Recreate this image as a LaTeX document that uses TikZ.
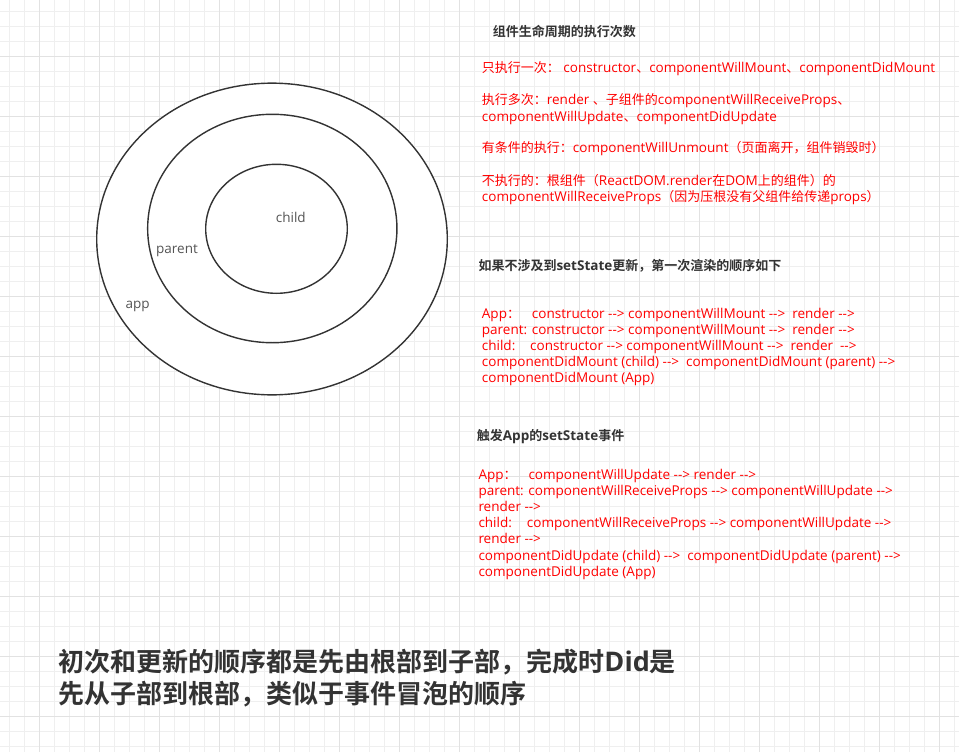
\documentclass[tikz,border=0pt]{standalone}
\usepackage{fontspec}
\setmainfont{Open Sans}[Ligatures=TeXOff, Scale=1.04]
\newfontfamily\zhfont{Noto Sans CJK SC}[BoldFont={Noto Sans CJK SC Bold}]
\usepackage{xcolor}
\usetikzlibrary{shapes.geometric}

% Chinese characters switch to the CJK family by themselves
\XeTeXinterchartokenstate=1
\newXeTeXintercharclass\zhclass
\newcount\zhcode
\zhcode="3000 \loop\XeTeXcharclass\zhcode=\zhclass\ifnum\zhcode<"303F \advance\zhcode by 1 \repeat
\zhcode="4E00 \loop\XeTeXcharclass\zhcode=\zhclass\ifnum\zhcode<"9FFF \advance\zhcode by 1 \repeat
\zhcode="FF00 \loop\XeTeXcharclass\zhcode=\zhclass\ifnum\zhcode<"FFEF \advance\zhcode by 1 \repeat
\XeTeXinterchartoks 0 \zhclass = {\begingroup\zhfont}
\XeTeXinterchartoks 4095 \zhclass = {\begingroup\zhfont}
\XeTeXinterchartoks \zhclass 0 = {\endgroup}
\XeTeXinterchartoks \zhclass 4095 = {\endgroup}

\definecolor{inkgray}{HTML}{333333}
\definecolor{taggray}{HTML}{555555}
\definecolor{minorline}{HTML}{EFEFEF}
\definecolor{majorline}{HTML}{E2E2E2}

\begin{document}
\begin{tikzpicture}[x=1pt, y=-1pt]
        \tikzset{ring/.style = {ellipse, draw=inkgray, line width=1.4pt, fill=white, inner sep=0pt}}
        \tikzset{ringtag/.style = {text=taggray, font=\fontsize{13}{16}\selectfont, inner sep=0pt}}
        \tikzset{heading/.style = {anchor=base west, inner sep=0pt, text=inkgray, font=\fontsize{13}{16}\selectfont\bfseries}}
        \tikzset{redline/.style = {anchor=base west, inner sep=0pt, text=red, font=\fontsize{13}{16}\selectfont}}
        \tikzset{summary/.style = {anchor=base west, inner sep=0pt, text=inkgray, font=\fontsize{26}{32}\selectfont\bfseries}}

        % paper
        \useasboundingbox (0,0) rectangle (959,752);
        \fill[white] (0,0) rectangle (959,752);
        \foreach \k in {0,...,63} \draw[minorline, line width=0.8pt] ({9.3+15*\k},0) -- ({9.3+15*\k},752);
        \foreach \k in {0,...,49} \draw[minorline, line width=0.8pt] (0,{11.7+15*\k}) -- (959,{11.7+15*\k});
        \foreach \k in {0,...,15} \draw[majorline, line width=0.8pt] ({39.3+60*\k},0) -- ({39.3+60*\k},752);
        \foreach \k in {0,...,11} \draw[majorline, line width=0.8pt] (0,{56.7+60*\k}) -- (959,{56.7+60*\k});

        % rings
        \node[ring, minimum width=350.6pt, minimum height=311.7pt] (appring) at (272,239) {};
        \node[ring, minimum width=249.3pt, minimum height=228.4pt] (parentring) at (272.3,228.5) {};
        \node[ring, minimum width=141.6pt, minimum height=129pt] (childring) at (276.5,228.8) {};
        \node[ringtag] (childtag) at (290.8,217) {child};
        \node[ringtag] (parenttag) at (177,250.7) {parent};
        \node[ringtag] (apptag) at (137.7,306.7) {app};

        % how often
        \node[heading] (counthead) at (492.7,36.5) {组件生命周期的执行次数};
        \node[redline] (once) at (481.7,73) {只执行一次： constructor、componentWillMount、componentDidMount};
        \node[redline] (many) at (481.7,105) {执行多次：render 、子组件的componentWillReceiveProps、};
        \node[redline] (many2) at (481.7,121.5) {componentWillUpdate、componentDidUpdate};
        \node[redline] (cond) at (481.7,152.5) {有条件的执行：componentWillUnmount（页面离开，组件销毁时）};
        \node[redline] (never) at (481.7,185.5) {不执行的：根组件（ReactDOM.render在DOM上的组件）的};
        \node[redline] (never2) at (481.7,201.5) {componentWillReceiveProps（因为压根没有父组件给传递props）};

        % first render
        \node[heading] (mounthead) at (478.3,270) {如果不涉及到setState更新，第一次渲染的顺序如下};
        \node[redline] (mount1) at (481.7,318) {\makebox[50pt][l]{App：}constructor --> componentWillMount -->\ \ render -->};
        \node[redline] (mount2) at (481.7,334.5) {parent: constructor --> componentWillMount -->\ \ render -->};
        \node[redline] (mount3) at (481.7,350.5) {\makebox[48.3pt][l]{child:}constructor --> componentWillMount -->\ \ render\ \ -->};
        \node[redline] (mount4) at (481.7,366.5) {componentDidMount (child) -->\ \ componentDidMount (parent) -->};
        \node[redline] (mount5) at (481.7,382.5) {componentDidMount (App)};

        % setState
        \node[heading] (updatehead) at (476.7,440) {触发App的setState事件};
        \node[redline] (update1) at (478.3,479) {\makebox[50pt][l]{App：}componentWillUpdate --> render -->};
        \node[redline] (update2) at (478.3,495.5) {parent: componentWillReceiveProps --> componentWillUpdate -->};
        \node[redline] (update3) at (478.3,511.5) {render -->};
        \node[redline] (update4) at (478.3,527.5) {\makebox[48.4pt][l]{child:}componentWillReceiveProps --> componentWillUpdate -->};
        \node[redline] (update5) at (478.3,543.5) {render -->};
        \node[redline] (update6) at (478.3,560) {componentDidUpdate (child) -->\ \ componentDidUpdate (parent) -->};
        \node[redline] (update7) at (478.3,576) {componentDidUpdate (App)};

        % conclusion
        \node[summary] (sum1) at (58.3,671.6) {初次和更新的顺序都是先由根部到子部，完成时Did是};
        \node[summary] (sum2) at (58.3,703.2) {先从子部到根部，类似于事件冒泡的顺序};

        \end{tikzpicture}
\end{document}
